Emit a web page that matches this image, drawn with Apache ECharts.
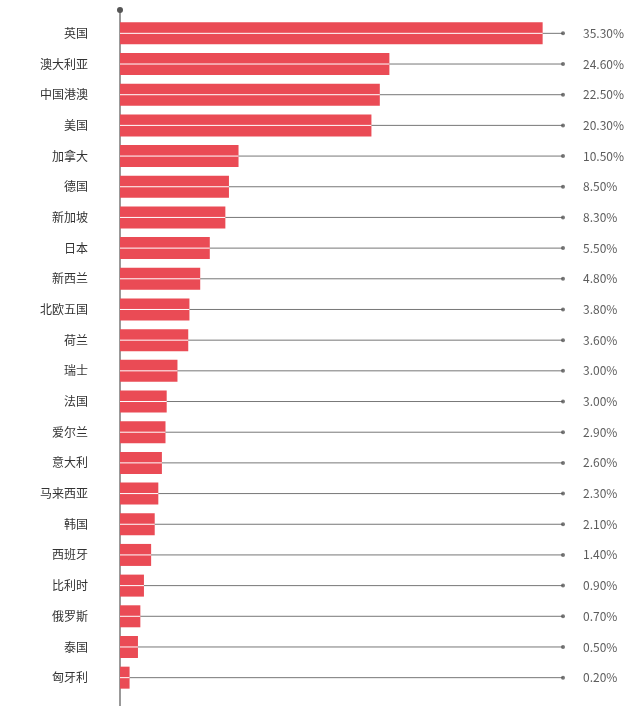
<!DOCTYPE html>
<html lang="zh">
<head>
    <meta charset="utf-8" />
    <script src="https://cdn.jsdelivr.net/npm/echarts@6/dist/echarts.min.js"></script>
    <style>html,body{margin:0;background:#fff}#chart{width:640px;height:715px}</style>
</head>
<body>
<div id="chart"></div>
<script>
    // 国家/地区
    var countries = ['英国','澳大利亚','中国港澳','美国','加拿大','德国','新加坡','日本','新西兰','北欧五国','荷兰','瑞士','法国','爱尔兰','意大利','马来西亚','韩国','西班牙','比利时','俄罗斯','泰国','匈牙利'];
    // 标注的百分比
    var labels = ['35.30%','24.60%','22.50%','20.30%','10.50%','8.50%','8.30%','5.50%','4.80%','3.80%','3.60%','3.00%','3.00%','2.90%','2.60%','2.30%','2.10%','1.40%','0.90%','0.70%','0.50%','0.20%'];
    // 图中柱子的长度（按图估读，与标注不完全成比例）
    var barLength = [35.3,22.5,21.7,21.0,9.9,9.1,8.8,7.5,6.7,5.8,5.7,4.8,3.9,3.8,3.5,3.2,2.9,2.6,2.0,1.7,1.5,0.8];
    var axisMax = 37;
    var fullLine = countries.map(function () { return axisMax; });

    // 画一条从0到数值的细线
    function lineItem(color) {
        return function (params, api) {
            var a = api.coord([0, api.value(1)]);
            var b = api.coord([api.value(0), api.value(1)]);
            return {type: 'line', shape: {x1: a[0], y1: a[1], x2: b[0], y2: b[1]},
                    style: {stroke: color, lineWidth: 1}};
        };
    }

    var chart = echarts.init(document.getElementById('chart'));
    chart.setOption({
        animation: false,
        grid: {left: 120, width: 443, top: 18, height: 675},
        xAxis: {type: 'value', min: 0, max: axisMax, show: false},
        yAxis: {
            type: 'category', data: countries, inverse: true,
            axisLine: {show: false}, axisTick: {show: false},
            axisLabel: {color: '#333', fontSize: 12, margin: 32, fontFamily: 'Noto Sans CJK SC'}
        },
        series: [
            {   // 灰色引线
                type: 'custom', renderItem: lineItem('#777'), silent: true, z: 1,
                data: fullLine.map(function (v, i) { return [v, i]; })
            },
            {
                type: 'bar', data: barLength, barWidth: 22,
                itemStyle: {color: '#ea4b55'}, z: 2
            },
            {   // 柱内白线
                type: 'custom', renderItem: lineItem('#fff'), silent: true, z: 3,
                data: barLength.map(function (v, i) { return [v, i]; })
            },
            {
                type: 'scatter', data: fullLine, symbolSize: 4, z: 4,
                itemStyle: {color: '#555'},
                label: {
                    show: true, position: 'right', distance: 18, color: '#333', fontSize: 12,
                    fontFamily: 'Noto Sans CJK SC',
                    formatter: function (p) { return labels[p.dataIndex]; }
                }
            }
        ],
        graphic: [
            {type: 'line', shape: {x1: 120, y1: 10, x2: 120, y2: 706}, style: {stroke: '#555', lineWidth: 1.2}},
            {type: 'circle', shape: {cx: 120, cy: 10, r: 3}, style: {fill: '#555'}}
        ]
    });
</script>
</body>
</html>
